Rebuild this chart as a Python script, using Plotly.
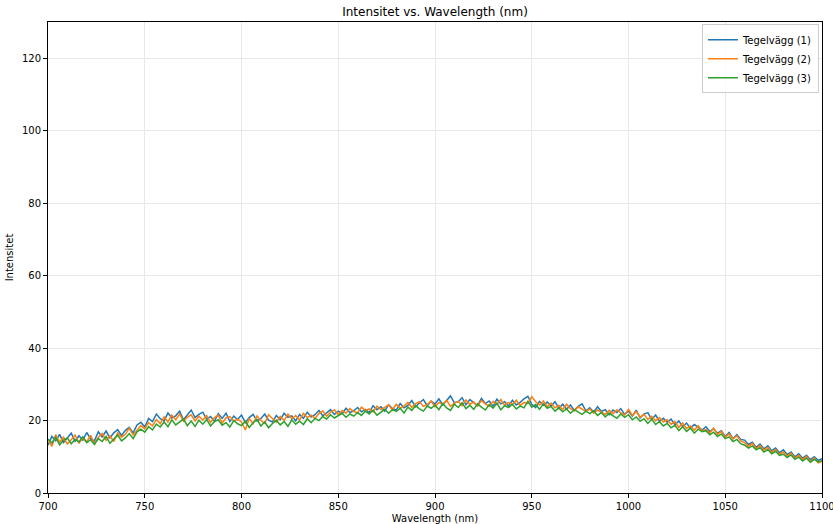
import plotly.graph_objects as go

wavelength = [700 + 2 * i for i in range(201)]

tegel1 = [
    13.2, 15.6, 14.4, 16.2, 13.9, 15.1, 16.5, 14.3, 15.8, 14.6,
    16.7, 15.0, 14.4, 16.9, 15.5, 17.1, 15.2, 16.6, 17.5, 15.9,
    17.3, 18.1, 16.6, 18.8, 19.5, 18.2, 20.6, 19.7, 21.8, 20.5,
    19.9, 22.1, 20.7, 21.3, 22.6, 20.2, 21.4, 22.9, 20.8, 21.7,
    22.3, 20.4, 21.1, 19.8, 21.9, 20.6, 22.0, 19.7, 21.2, 20.3,
    21.5, 19.4, 20.8, 21.7, 19.9, 20.5, 21.8, 20.1, 19.6, 21.4,
    20.2, 22.0, 20.9, 21.3, 19.9, 21.7, 20.6, 22.3, 21.0, 21.6,
    22.8, 21.3, 22.1, 23.0, 21.7, 22.6, 21.9, 23.4, 22.2, 22.7,
    23.6, 22.4, 23.1, 22.2, 24.1, 23.0, 23.8, 22.6, 24.4, 23.3,
    22.9, 24.7, 23.5, 24.2, 25.5, 23.8, 24.9, 25.8, 24.1, 25.3,
    24.6, 26.0, 24.3, 25.7, 26.8, 24.9, 25.2, 26.3, 24.4, 25.8,
    25.0, 24.1, 26.1, 24.7, 25.4, 23.9, 25.9, 24.6, 25.2, 24.0,
    25.6, 24.3, 25.0, 26.0, 26.7, 24.5, 23.6, 25.3, 24.2, 25.1,
    24.0, 25.2, 23.4, 24.5, 23.1, 24.3, 22.8, 23.9, 24.6, 22.7,
    23.5, 22.3, 23.8, 22.5, 23.0, 21.6, 22.9, 22.2, 23.3, 21.7,
    22.6, 21.2, 22.9, 20.7, 21.8, 22.2, 20.3, 21.5, 19.8, 20.6,
    19.5, 20.4, 18.8, 19.9, 18.3, 19.3, 17.9, 18.9, 18.2, 17.4,
    18.3, 17.0, 17.7, 16.5, 17.2, 15.6, 16.7, 15.0, 16.1, 14.8,
    14.6, 13.4, 14.0, 12.6, 13.5, 12.2, 13.0, 11.7, 12.4, 11.1,
    11.9, 10.6, 11.3, 10.0, 10.8, 9.6, 10.4, 9.2, 10.0, 9.0,
    9.5,
]

tegel2 = [
    14.8, 12.9, 16.1, 14.0, 15.4, 13.5, 14.7, 16.0, 13.8, 15.2,
    14.1, 15.9, 13.7, 15.3, 16.4, 14.5, 15.8, 14.2, 16.6, 15.4,
    16.2, 17.9, 16.0, 17.4, 18.6, 17.7, 19.4, 18.5, 20.3, 19.1,
    21.0, 19.6, 21.5, 20.2, 21.8, 19.8, 20.9, 21.6, 19.9, 21.2,
    20.1, 21.4, 19.5, 20.8, 21.5, 19.3, 20.7, 21.1, 19.8, 20.4,
    19.6, 17.4, 20.6, 19.1, 21.3, 20.0, 19.2, 21.6, 20.4, 19.5,
    21.1, 20.0, 21.8, 20.5, 21.4, 20.1, 22.0, 20.8, 21.5, 20.6,
    21.9, 22.6, 21.2, 22.3, 23.0, 21.6, 22.8, 22.0, 23.3, 22.5,
    22.1, 23.7, 22.8, 23.2, 22.4, 24.0, 23.0, 23.6, 24.3, 22.9,
    24.5, 23.4, 24.0, 25.0, 23.6, 24.7, 25.2, 23.9, 24.4, 25.4,
    23.8, 25.0, 24.4, 25.6, 23.9, 24.8, 25.3, 24.1, 25.7, 24.5,
    25.1, 24.0, 25.5, 24.6, 23.9, 25.3, 24.4, 25.8, 24.2, 25.0,
    24.4, 25.6, 24.1, 25.0, 24.7, 26.6, 25.2, 24.3, 25.4, 23.8,
    24.8, 23.5, 24.2, 23.0, 24.5, 23.3, 22.7, 23.8, 23.1, 22.5,
    23.2, 22.0, 22.9, 22.4, 21.7, 22.8, 21.9, 23.0, 22.1, 21.5,
    23.1, 21.4, 22.5, 20.9, 21.7, 20.3, 21.2, 19.9, 20.8, 19.6,
    20.2, 19.0, 19.7, 18.1, 19.3, 17.8, 18.5, 17.3, 18.6, 17.1,
    17.5, 16.6, 17.9, 16.2, 17.0, 15.4, 16.3, 14.9, 15.8, 14.4,
    13.9, 12.8, 13.7, 12.2, 13.1, 11.8, 12.6, 11.2, 12.0, 10.7,
    11.3, 10.1, 11.0, 9.6, 10.4, 9.2, 10.1, 8.6, 9.7, 8.3,
    8.7,
]

tegel3 = [
    14.9, 13.8, 15.4, 13.3, 14.6, 15.2, 13.6, 14.8, 14.1, 15.5,
    13.9, 14.7, 13.4, 15.0, 14.2, 15.6, 13.7, 14.9, 16.0, 14.4,
    15.2, 16.4, 15.0, 16.9, 17.6, 16.8, 18.3, 17.4, 19.0, 18.2,
    19.6, 18.3, 20.2, 18.8, 19.5, 20.4, 18.6, 19.9, 18.4, 20.1,
    19.0, 20.3, 18.5, 19.7, 20.2, 18.7, 19.4, 18.2, 20.0, 19.1,
    18.6, 19.8, 18.1, 19.4, 20.3, 18.5, 19.6, 18.0, 19.2, 20.1,
    18.8, 19.7, 18.4, 20.2, 19.0, 19.8, 18.9, 20.5, 19.4, 20.6,
    20.0, 21.1, 20.4, 21.6, 20.7, 21.3, 22.0, 20.9, 21.8, 21.2,
    22.2, 21.4, 22.6, 21.8, 22.9, 21.5, 22.4, 23.1, 22.0, 23.0,
    22.5, 23.4, 22.1, 23.7, 22.8, 24.1, 23.2, 22.6, 24.0, 23.4,
    24.3, 23.0, 24.7, 23.5, 22.8, 24.5, 23.6, 24.9, 23.3, 24.2,
    23.1, 24.6, 23.7, 22.9, 24.4, 23.4, 24.8, 23.0, 24.1, 23.6,
    24.5, 23.2, 24.0, 23.5, 25.3, 23.7, 24.4, 23.1, 24.6, 23.4,
    23.9, 22.6, 23.5, 22.4, 23.2, 22.0, 23.0, 22.3, 21.7, 22.6,
    21.9, 22.7, 21.4, 22.2, 21.0, 22.0, 21.3, 20.6, 21.8, 20.9,
    21.6, 20.2, 21.0, 19.8, 20.5, 19.2, 20.4, 18.9, 19.7, 18.5,
    19.2, 18.0, 18.7, 17.2, 18.3, 17.0, 17.9, 16.5, 17.6, 16.9,
    17.2, 16.1, 16.8, 15.6, 16.3, 15.0, 15.5, 14.2, 14.8, 13.6,
    13.2, 12.4, 13.0, 11.9, 12.5, 11.3, 12.0, 10.8, 11.5, 10.4,
    10.7, 9.8, 10.5, 9.3, 9.9, 8.8, 9.6, 8.5, 9.3, 8.6,
    9.0,
]

series_names = ["Tegelvägg (1)", "Tegelvägg (2)", "Tegelvägg (3)"]
series_values = [tegel1, tegel2, tegel3]
colors = ["#1f77b4", "#ff7f0e", "#2ca02c"]

x_ticks = [700, 750, 800, 850, 900, 950, 1000, 1050, 1100]
y_ticks = [0, 20, 40, 60, 80, 100, 120]

fig = go.Figure()
for name, vals, col in zip(series_names, series_values, colors):
    fig.add_trace(go.Scatter(x=wavelength, y=vals, mode="lines", name=name,
                             line=dict(color=col, width=1.5)))

axis_common = dict(
    showline=True, linecolor="black", linewidth=1, mirror=True,
    ticks="outside", ticklen=4, tickcolor="black", tickwidth=1,
    showgrid=True, gridcolor="#e8e8e8", gridwidth=1,
    zeroline=False, tickfont=dict(size=10, color="black"),
    automargin=False, ticklabeloverflow="allow",
)

fig.update_layout(
    width=833, height=524,
    margin=dict(l=48, r=11, t=22, b=31),
    paper_bgcolor="white", plot_bgcolor="white",
    font=dict(family="DejaVu Sans", color="black"),
    title=dict(text="Intensitet vs. Wavelength (nm)", x=0.5, xanchor="center",
               xref="paper", y=0.977, yref="container", yanchor="middle",
               font=dict(size=12), automargin=False),
    xaxis=dict(range=[700, 1100], tickvals=x_ticks,
               title=dict(text="Wavelength (nm)", font=dict(size=10), standoff=4),
               **axis_common),
    yaxis=dict(range=[0, 130], tickvals=y_ticks,
               title=dict(text="Intensitet", font=dict(size=10), standoff=6),
               **axis_common),
    legend=dict(x=0.996, y=0.995, xanchor="right", yanchor="top",
                bgcolor="rgba(255,255,255,0.8)", bordercolor="#cccccc", borderwidth=1,
                font=dict(size=10), tracegroupgap=0, itemwidth=30),
    showlegend=True,
)

fig.write_html("out.html", config={"displayModeBar": False},
               post_script="document.body.style.margin='0';document.body.style.overflow='hidden';")
